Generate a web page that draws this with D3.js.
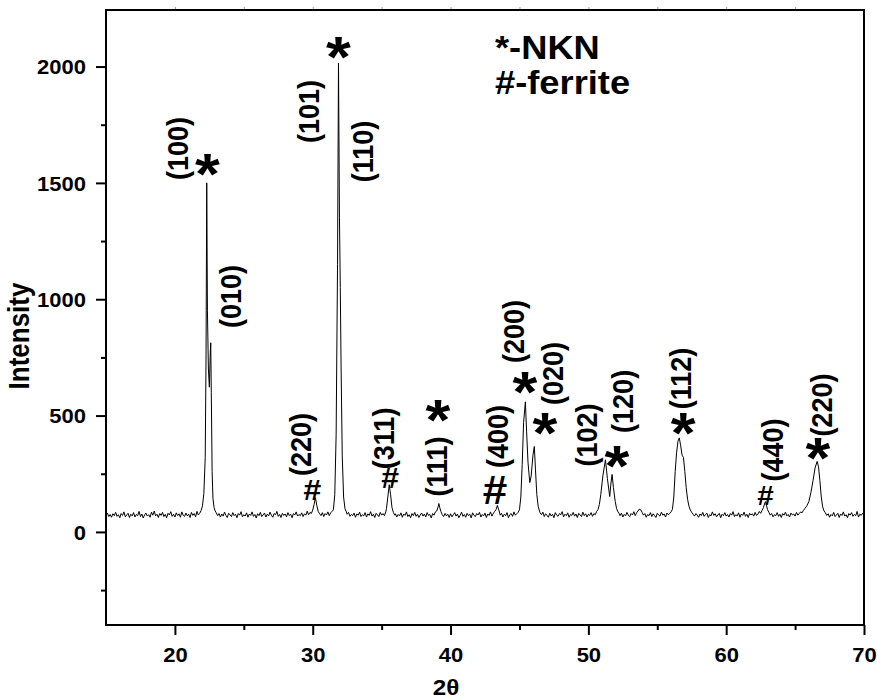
<!DOCTYPE html>
<html>
<head>
<meta charset="utf-8">
<script src="https://cdn.jsdelivr.net/npm/d3@7"></script>
<style>
body{margin:0;background:#fff;}
text{font-family:"Liberation Sans",Arial,sans-serif;font-weight:bold;fill:#000;}
</style>
</head>
<body>
<svg id="chart" width="877" height="700"></svg>
<script>
// XRD scan, [2theta, intensity]
var scan = [
[15.0,72],[15.1,81],[15.2,66],[15.3,75],[15.4,63],[15.5,78],[15.6,70],[15.7,84],[15.8,67],[15.9,74],
[16.0,61],[16.1,79],[16.2,71],[16.3,86],[16.4,65],[16.5,73],[16.6,80],[16.7,62],[16.8,76],[16.9,69],
[17.0,83],[17.1,64],[17.2,75],[17.3,70],[17.4,88],[17.5,66],[17.6,77],[17.7,60],[17.8,73],[17.9,81],
[18.0,68],[18.1,74],[18.2,63],[18.3,85],[18.4,72],[18.5,90],[18.6,69],[18.7,76],[18.8,62],[18.9,79],
[19.0,71],[19.1,84],[19.2,66],[19.3,75],[19.4,61],[19.5,80],[19.6,73],[19.7,87],[19.8,67],[19.9,76],
[20.0,64],[20.1,82],[20.2,70],[20.3,78],[20.4,63],[20.5,86],[20.6,72],[20.7,67],[20.8,81],[20.9,69],
[21.0,76],[21.1,62],[21.2,84],[21.3,71],[21.4,79],[21.5,65],[21.6,88],[21.7,73],[21.8,80],
[21.9,92],[22.0,112],[22.1,165],[22.2,320],[22.26,760],[22.31,1500],[22.36,950],[22.43,700],[22.5,622],[22.56,760],
[22.6,813],[22.64,600],[22.7,260],[22.76,145],[22.84,105],[22.92,90],[23.0,82],
[23.1,70],[23.2,79],[23.3,64],[23.4,77],[23.5,68],[23.6,85],[23.7,71],[23.8,62],[23.9,80],
[24.0,73],[24.1,66],[24.2,83],[24.3,70],[24.4,76],[24.5,61],[24.6,79],[24.7,72],[24.8,87],[24.9,65],
[25.0,74],[25.1,68],[25.2,82],[25.3,63],[25.4,77],[25.5,71],[25.6,86],[25.7,67],[25.8,75],[25.9,60],
[26.0,78],[26.1,70],[26.2,84],[26.3,66],[26.4,73],[26.5,81],[26.6,64],[26.7,76],[26.8,69],[26.9,85],
[27.0,72],[27.1,63],[27.2,79],[27.3,74],[27.4,88],[27.5,67],[27.6,75],[27.7,62],[27.8,80],[27.9,71],
[28.0,77],[28.1,65],[28.2,83],[28.3,70],[28.4,76],[28.5,61],[28.6,79],[28.7,73],[28.8,86],[28.9,68],
[29.0,75],[29.1,70],[29.2,82],[29.3,66],[29.4,78],[29.5,72],[29.6,89],[29.7,74],[29.8,84],[29.9,79],
[30.0,94],[30.1,118],[30.2,147],[30.3,112],[30.4,88],[30.5,78],[30.6,70],[30.7,83],[30.8,66],[30.9,79],
[31.0,73],[31.1,86],[31.2,70],[31.3,82],[31.4,88],[31.5,95],[31.6,160],[31.7,420],[31.8,1150],[31.87,2015],
[31.94,1350],[32.0,1050],[32.06,700],[32.14,330],[32.24,150],[32.34,100],[32.44,86],[32.5,76],
[32.6,84],[32.7,67],[32.8,75],[32.9,70],[33.0,81],[33.1,63],[33.2,77],[33.3,72],[33.4,85],[33.5,66],
[33.6,74],[33.7,69],[33.8,83],[33.9,64],[34.0,78],[34.1,71],[34.2,87],[34.3,68],[34.4,76],[34.5,62],
[34.6,80],[34.7,73],[34.8,66],[34.9,84],[35.0,72],[35.1,79],[35.2,70],[35.3,86],[35.35,100],[35.45,150],
[35.55,203],[35.65,160],[35.75,105],[35.85,84],[35.95,72],
[36.0,78],[36.1,64],[36.2,75],[36.3,69],[36.4,82],[36.5,63],[36.6,77],[36.7,71],[36.8,86],[36.9,66],
[37.0,74],[37.1,61],[37.2,79],[37.3,70],[37.4,84],[37.5,67],[37.6,76],[37.7,62],[37.8,73],[37.9,81],
[38.0,68],[38.1,77],[38.2,64],[38.3,83],[38.4,71],[38.5,75],[38.6,60],[38.7,79],[38.8,72],[38.9,86],
[39.0,90],[39.1,108],[39.15,122],[39.22,104],[39.3,88],[39.4,74],[39.5,66],[39.6,80],[39.7,69],[39.8,76],[39.9,62],
[40.0,78],[40.1,65],[40.2,74],[40.3,83],[40.4,68],[40.5,77],[40.6,61],[40.7,72],[40.8,85],[40.9,67],
[41.0,75],[41.1,63],[41.2,80],[41.3,70],[41.4,76],[41.5,60],[41.6,82],[41.7,71],[41.8,66],[41.9,79],
[42.0,73],[42.1,84],[42.2,64],[42.3,75],[42.4,69],[42.5,81],[42.6,62],[42.7,77],[42.8,71],[42.9,86],
[43.0,68],[43.1,79],[43.2,88],[43.3,96],[43.4,114],[43.48,98],[43.55,85],[43.6,72],[43.7,80],[43.8,64],[43.9,76],
[44.0,70],[44.1,83],[44.2,61],[44.3,74],[44.4,79],[44.5,67],[44.6,86],[44.7,72],[44.8,78],[44.9,84],
[45.0,95],[45.1,150],[45.2,290],[45.3,470],[45.43,559],[45.52,430],[45.62,300],[45.75,212],[45.85,240],[45.98,330],
[46.08,367],[46.16,270],[46.26,160],[46.36,110],[46.45,90],[46.5,82],
[46.6,74],[46.7,85],[46.8,66],[46.9,78],[47.0,71],[47.1,63],[47.2,80],[47.3,69],[47.4,76],[47.5,61],
[47.6,83],[47.7,72],[47.8,67],[47.9,79],[48.0,74],[48.1,87],[48.2,65],[48.3,76],[48.4,70],[48.5,82],
[48.6,63],[48.7,75],[48.8,71],[48.9,84],[49.0,68],[49.1,77],[49.2,62],[49.3,80],[49.4,73],[49.5,66],
[49.6,85],[49.7,70],[49.8,78],[49.9,64],[50.0,76],[50.1,71],[50.2,83],[50.3,67],[50.4,79],[50.5,74],
[50.6,88],[50.7,96],[50.8,118],[50.9,160],[51.05,240],[51.24,310],[51.38,230],[51.55,152],[51.64,210],[51.72,247],
[51.82,190],[51.95,130],[52.05,100],[52.15,86],[52.25,78],
[52.3,70],[52.4,81],[52.5,64],[52.6,75],[52.7,69],[52.8,84],[52.9,72],[53.0,66],[53.1,79],[53.2,73],
[53.3,87],[53.4,70],[53.5,82],[53.6,90],[53.7,98],[53.8,95],[53.9,84],[54.0,72],[54.1,79],[54.2,63],
[54.3,75],[54.4,70],[54.5,83],[54.6,66],[54.7,78],[54.8,71],[54.9,62],[55.0,80],[55.1,73],[55.2,68],
[55.3,85],[55.4,72],[55.5,77],[55.6,64],[55.7,81],[55.8,74],[55.9,79],[56.0,86],
[56.1,97],[56.2,150],[56.3,260],[56.4,340],[56.5,390],[56.6,404],[56.7,370],[56.8,330],[56.9,320],[57.0,260],
[57.1,190],[57.2,140],[57.3,110],[57.4,94],[57.5,84],
[57.6,76],[57.7,68],[57.8,79],[57.9,72],[58.0,63],[58.1,77],[58.2,70],[58.3,84],[58.4,67],[58.5,75],
[58.6,81],[58.7,62],[58.8,74],[58.9,69],[59.0,86],[59.1,71],[59.2,78],[59.3,65],[59.4,73],[59.5,80],
[59.6,61],[59.7,76],[59.8,70],[59.9,83],[60.0,68],[60.1,75],[60.2,64],[60.3,79],[60.4,72],[60.5,87],
[60.6,66],[60.7,74],[60.8,69],[60.9,82],[61.0,63],[61.1,77],[61.2,71],[61.3,85],[61.4,67],[61.5,76],
[61.6,62],[61.7,80],[61.8,73],[61.9,78],[62.0,68],[62.1,84],[62.2,71],[62.3,76],[62.4,88],[62.5,80],
[62.6,92],[62.7,104],[62.8,124],[62.85,130],[62.92,115],[63.0,96],[63.1,84],[63.2,72],[63.3,79],[63.4,65],[63.5,74],
[63.6,70],[63.7,83],[63.8,67],[63.9,76],[64.0,62],[64.1,79],[64.2,72],[64.3,85],[64.4,69],[64.5,75],
[64.6,64],[64.7,81],[64.8,73],[64.9,77],[65.0,68],[65.1,84],[65.2,72],[65.3,79],[65.4,86],[65.5,82],
[65.6,92],[65.7,100],[65.85,112],[66.0,130],[66.15,170],[66.3,220],[66.45,275],[66.6,303],[66.7,280],[66.8,220],
[66.9,150],[67.0,108],[67.1,90],[67.2,82],
[67.3,71],[67.4,78],[67.5,63],[67.6,75],[67.7,69],[67.8,84],[67.9,66],[68.0,73],[68.1,80],[68.2,62],
[68.3,77],[68.4,71],[68.5,86],[68.6,68],[68.7,74],[68.8,61],[68.9,79],[69.0,72],[69.1,83],[69.2,67],
[69.3,75],[69.4,70],[69.5,88],[69.6,64],[69.7,76],[69.8,71],[69.9,80],[70.0,73]
];

// hkl labels, placed at [2theta, intensity]
var hklLabels = [
["(100)",20.41,1648],["(010)",24.25,1012],["(101)",29.91,1807],["(110)",33.79,1635],
["(220)",29.33,376],["(311)",35.35,402],["(111)",39.20,281],["(400)",43.62,410],
["(200)",44.75,861],["(020)",47.58,681],["(102)",50.08,417],["(120)",52.69,561],
["(112)",56.90,659],["(440)",63.58,352],["(220)",67.14,545]
];
// NKN peaks (*) and ferrite peaks (#)
var nknMarks = [[22.36,1577],[31.87,2080],[39.09,518],[45.40,642],[46.85,464],[52.08,322],[56.87,464],[66.66,357]];
var ferriteMarks = [[29.98,137],[35.61,189],[43.23,120],[62.85,116]];
var ferriteSize = [29,29,40,27];

var xTicks = [20,30,40,50,60,70];
var xMinor = [25,35,45,55,65];
var xTop = [20,25,30,35,40,45,50,55,60,65];
var yTicks = [0,500,1000,1500,2000];
var yMinor = [-250,250,750,1250,1750];

var svg = d3.select("#chart");
var margin = {top: 10, right: 13, bottom: 75, left: 106};
var width = 877 - margin.left - margin.right;
var height = 700 - margin.top - margin.bottom;

var x = d3.scaleLinear().domain([15,70]).range([0,width]);
var y = d3.scaleLinear().domain([-400,2243]).range([height,0]);

var g = svg.append("g").attr("transform","translate(" + margin.left + "," + margin.top + ")");

// axes
g.append("g")
    .attr("class","y axis")
    .call(d3.axisLeft(y).tickValues(yTicks).tickSize(10).tickPadding(0).tickFormat(d3.format("d")))
    .attr("font-size",20)
    .call(function(a){
        a.select(".domain").remove();
        a.selectAll("line").attr("stroke","#000").attr("stroke-width",2);
        a.selectAll("text")
            .attr("x",null)
            .attr("dy","0.36em")
            .attr("transform","translate(-20,0) scale(1.1,1)");
    });

g.append("g")
    .call(d3.axisLeft(y).tickValues(yMinor).tickSize(5).tickFormat(""))
    .call(function(a){
        a.select(".domain").remove();
        a.selectAll("line").attr("stroke","#000").attr("stroke-width",2);
    });

g.append("g")
    .attr("class","x axis")
    .attr("transform","translate(0," + height + ")")
    .call(d3.axisBottom(x).tickValues(xTicks).tickSize(10).tickPadding(0).tickFormat(d3.format("d")))
    .attr("font-size",20)
    .call(function(a){
        a.select(".domain").remove();
        a.selectAll("line").attr("stroke","#000").attr("stroke-width",2);
        a.selectAll("text")
            .attr("y",null)
            .attr("dy",0)
            .attr("transform","translate(0,37) scale(1.1,1)");
    });

g.append("g")
    .attr("transform","translate(0," + height + ")")
    .call(d3.axisBottom(x).tickValues(xMinor).tickSize(5).tickFormat(""))
    .call(function(a){
        a.select(".domain").remove();
        a.selectAll("line").attr("stroke","#000").attr("stroke-width",2);
    });

// faint ticks on top edge
g.append("g")
    .call(d3.axisTop(x).tickValues(xTop).tickSize(3).tickFormat(""))
    .call(function(a){
        a.select(".domain").remove();
        a.selectAll("line").attr("stroke","#999").attr("stroke-width",1);
    });

g.append("rect")
    .attr("width",width)
    .attr("height",height)
    .attr("fill","none")
    .attr("stroke","#000")
    .attr("stroke-width",2);

// the pattern
var line = d3.line()
    .x(function(d){ return x(d[0]); })
    .y(function(d){ return y(d[1]); });

g.append("path")
    .datum(scan)
    .attr("fill","none")
    .attr("stroke","#000")
    .attr("stroke-width",1)
    .attr("d",line);

// peak labels
g.selectAll(".hkl")
    .data(hklLabels)
    .enter().append("text")
    .attr("class","hkl")
    .attr("transform",function(d){ return "translate(" + x(d[1]) + "," + y(d[2]) + ") scale(1.1,1) rotate(-90)"; })
    .attr("text-anchor","middle")
    .attr("dy","0.26em")
    .attr("font-size",27)
    .text(function(d){ return d[0]; });

g.selectAll(".nkn")
    .data(nknMarks)
    .enter().append("text")
    .attr("class","nkn")
    .attr("transform",function(d){ return "translate(" + x(d[0]) + "," + y(d[1]) + ") scale(1.1,1)"; })
    .attr("text-anchor","middle")
    .attr("dy","0.5em")
    .attr("font-size",58)
    .text("*");

g.selectAll(".ferrite")
    .data(ferriteMarks)
    .enter().append("text")
    .attr("class","ferrite")
    .attr("transform",function(d){ return "translate(" + x(d[0]) + "," + y(d[1]) + ") scale(1.1,1)"; })
    .attr("text-anchor","middle")
    .attr("font-size",function(d,i){ return ferriteSize[i]; })
    .text("#");

// legend
svg.append("text")
    .attr("transform","translate(495,59) scale(1.1,1)")
    .attr("font-size",33)
    .text("*-NKN");
svg.append("text")
    .attr("transform","translate(495,94) scale(1.1,1)")
    .attr("font-size",33)
    .text("#-ferrite");

// axis titles
svg.append("text")
    .attr("transform","translate(29,336) scale(1.1,1) rotate(-90)")
    .attr("text-anchor","middle")
    .attr("font-size",26)
    .text("Intensity");
svg.append("text")
    .attr("transform","translate(446,695) scale(1.1,1)")
    .attr("text-anchor","middle")
    .attr("font-size",22)
    .text("2θ");
</script>
</body>
</html>
